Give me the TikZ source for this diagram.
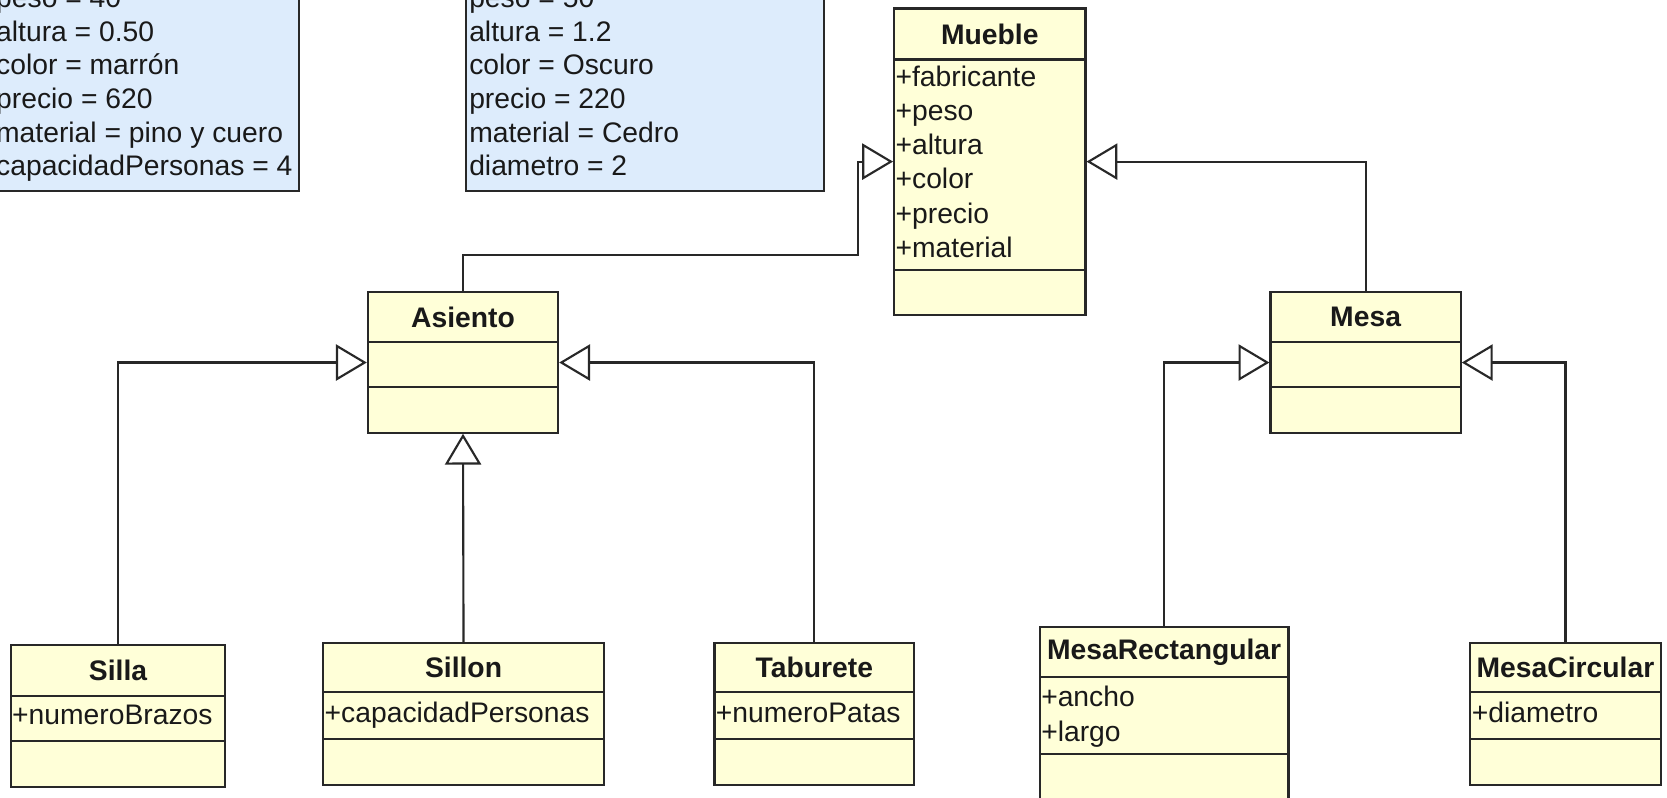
\documentclass[tikz,border=0pt]{standalone}
\usepackage{fontspec}
\setmainfont{Liberation Sans}
\usetikzlibrary{arrows.meta,fit}
\definecolor{clsfill}{RGB}{255,255,216}
\definecolor{objfill}{RGB}{221,236,252}
\definecolor{edgec}{RGB}{40,40,40}
\tikzset{
 cls/.style={draw=edgec, line width=1pt, fill=clsfill, inner sep=0pt},
 obj/.style={draw=edgec, line width=1pt, fill=objfill, inner sep=0pt},
 ttl/.style={font=\fontsize{13.3}{16}\selectfont\bfseries, inner sep=0pt, text=black!90},
 attr/.style={font=\fontsize{13.3}{16}\selectfont, inner sep=0pt, anchor=base west, text=black!90},
 sep/.style={draw=edgec, line width=1pt},
 gen/.style={draw=edgec, line width=1pt, -{Triangle[open, length=14.5pt, width=17pt, fill=white]}},
}
% #1 name, #2 left, #3 top, #4 right, #5 bottom, #6 header line, #7 attr line, #8 title
\newcommand{\umlcls}[8]{%
  \node[cls, fit={(#2,#3) (#4,#5)}] (#1) {};
  \draw[sep] (#2,#6) -- (#4,#6) (#2,#7) -- (#4,#7);
  \node[ttl] (#1-t) at ({(#2+#4)/2},{(#3+#6)/2}) {#8};
}
% #1 prefix, #2 x, #3 first baseline, #4 step, #5 list
\newcommand{\attrlines}[5]{%
  \foreach \t [count=\i] in {#5} {\node[attr] (#1-\i) at (#2,{#3+(\i-1)*#4}) {\t};}
}
\begin{document}
\begin{tikzpicture}[x=0.5pt,y=-0.5pt]
\useasboundingbox (0,0) rectangle (1568,750);
\fill[white] (0,0) rectangle (1568,750);
\clip (0,0) rectangle (1568,750);

% object boxes
\node[obj, fit={(-10,-20) (281,180)}] (o1) {};
\attrlines{o1a}{-4}{7}{31.7}{peso = 40,altura = 0.50,color = marrón,precio = 620,material = pino y cuero,capacidadPersonas = 4}
\node[obj, fit={(438,-20) (775,180)}] (o2) {};
\attrlines{o2a}{441}{7}{31.7}{peso = 50,altura = 1.2,color = Oscuro,precio = 220,material = Cedro,diametro = 2}

% classes
\umlcls{mu}{841}{8}{1021}{296}{56}{254}{Mueble}
\attrlines{mua}{842}{81}{32.2}{+fabricante,+peso,+altura,+color,+precio,+material}

\umlcls{as}{346}{275}{525}{407}{322}{364}{Asiento}
\umlcls{me}{1195}{275}{1374}{407}{322}{364}{Mesa}

\umlcls{si}{10}{607}{212}{740}{655}{697}{Silla}
\attrlines{sia}{11}{681}{32}{+numeroBrazos}
\umlcls{sn}{304}{605}{568}{738}{651}{695}{Sillon}
\attrlines{sna}{305}{680}{32}{+capacidadPersonas}
\umlcls{ta}{672}{605}{860}{738}{651}{695}{Taburete}
\attrlines{taa}{673}{680}{32}{+numeroPatas}
\umlcls{mr}{978}{590}{1212}{770}{637}{709}{MesaRectangular}
\attrlines{mra}{979}{665}{32}{+ancho,+largo}
\umlcls{mc}{1383}{605}{1562}{738}{651}{695}{MesaCircular}
\attrlines{mca}{1384}{680}{32}{+diametro}

% connectors
\coordinate (b1) at (807,240);
\draw[gen] (as.north) |- (b1) |- (mu.west);
\draw[gen] (me.north) |- (mu.east);
\draw[gen] (si.north) |- (as.west);
\draw[gen] (sn.north) -- (as.south);
\draw[gen] (ta.north) |- (as.east);
\draw[gen] (mr.north) |- (me.west);
\draw[gen] (mc.north) |- (me.east);
\end{tikzpicture}
\end{document}
